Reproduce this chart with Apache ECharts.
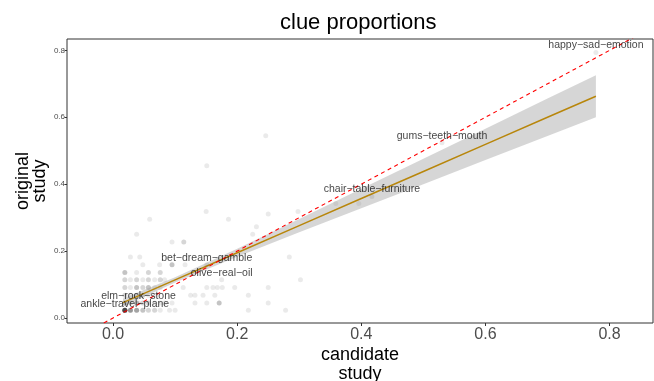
<!DOCTYPE html>
<html>
<head>
<meta charset="utf-8">
<script src="https://cdn.jsdelivr.net/npm/echarts@6.0.0/dist/echarts.min.js"></script>
<style>
  html, body { margin: 0; padding: 0; background: #fff; }
  #chart { width: 654px; height: 381px; }
</style>
</head>
<body>
<div id="chart"></div>
<script>
// scatter points (candidate study proportion, original study proportion, how many overlap there)
const ptX = [
  0.019, 0.028, 0.038, 0.048, 0.057, 0.067, 0.076, 0.091, 0.100, 0.218, 0.278,
  0.019, 0.028, 0.038, 0.048, 0.057, 0.067, 0.076, 0.083, 0.095, 0.132, 0.151, 0.171, 0.250,
  0.019, 0.028, 0.038, 0.048, 0.057, 0.067, 0.125, 0.132, 0.145, 0.164, 0.218,
  0.019, 0.028, 0.038, 0.048, 0.057, 0.067, 0.076, 0.113, 0.151, 0.161, 0.168, 0.176, 0.196, 0.250,
  0.019, 0.028, 0.038, 0.048, 0.057, 0.067, 0.076, 0.083, 0.302,
  0.019, 0.038, 0.057, 0.076,
  0.048, 0.075, 0.095, 0.116,
  0.028, 0.043, 0.284,
  0.095, 0.114,
  0.038, 0.225,
  0.231,
  0.059, 0.186,
  0.150, 0.298, 0.250,
  0.151, 0.246, 0.359, 0.396
]
const ptY = [
  0.023, 0.023, 0.023, 0.023, 0.023, 0.023, 0.023, 0.023, 0.023, 0.023, 0.023,
  0.045, 0.045, 0.045, 0.045, 0.045, 0.045, 0.045, 0.045, 0.045, 0.045, 0.045, 0.045, 0.045,
  0.068, 0.068, 0.068, 0.068, 0.068, 0.068, 0.068, 0.068, 0.068, 0.068, 0.068,
  0.091, 0.091, 0.091, 0.091, 0.091, 0.091, 0.091, 0.091, 0.091, 0.091, 0.091, 0.091, 0.091, 0.091,
  0.114, 0.114, 0.114, 0.114, 0.114, 0.114, 0.114, 0.114, 0.114,
  0.136, 0.136, 0.136, 0.136,
  0.159, 0.159, 0.159, 0.159,
  0.182, 0.182, 0.182,
  0.227, 0.227,
  0.250, 0.250,
  0.273,
  0.295, 0.295,
  0.318, 0.318, 0.311,
  0.455, 0.545, 0.342, 0.342
]
const ptN = [
  13, 6, 5, 3, 2, 2, 1, 1, 1, 1, 1,
  3, 2, 3, 2, 2, 1, 1, 1, 1, 1, 1, 3, 1,
  2, 1, 2, 2, 1, 1, 1, 1, 1, 1, 1,
  2, 1, 3, 2, 3, 1, 1, 1, 1, 1, 1, 1, 1, 1,
  2, 1, 2, 1, 2, 1, 2, 1, 1,
  3, 1, 2, 2,
  1, 1, 3, 1,
  1, 1, 1,
  1, 2,
  1, 1,
  1,
  1, 1,
  1, 1, 1,
  1, 1, 1, 1
]

// labelled clues
const labelNames = ['happy−sad−emotion', 'gums−teeth−mouth', 'chair−table−furniture', 'bet−dream−gamble', 'olive−real−oil', 'elm−rock−stone', 'ankle−travel−plane']
const labelX = [0.778, 0.530, 0.417, 0.151, 0.175, 0.041, 0.019]
const labelY = [0.794, 0.524, 0.363, 0.159, 0.114, 0.045, 0.022]

// linear fit and its confidence band
const fitX = [0.016, 0.1, 0.2, 0.3, 0.4, 0.5, 0.6, 0.7, 0.778]
const fitY = [0.046, 0.114, 0.195, 0.276, 0.357, 0.438, 0.519, 0.600, 0.663]
const bandUpper = [0.058, 0.122, 0.207, 0.296, 0.386, 0.476, 0.566, 0.656, 0.726]
const bandLower = [0.034, 0.106, 0.183, 0.256, 0.328, 0.400, 0.472, 0.544, 0.600]

// y = x reference line
const ablineX = [-0.1, 0.9]

const tickValues = [0, 0.2, 0.4, 0.6, 0.8]

const font = '"Liberation Sans", Arial, Helvetica, sans-serif'
const pointColor = 'rgba(0,0,0,0.1)'

const pointData = []
ptX.forEach((x, i) => {
  for (let k = 0; k < ptN[i]; k++) pointData.push([x, ptY[i]])
})

const chart = echarts.init(document.getElementById('chart'), null, { renderer: 'canvas' })

chart.setOption({
  animation: false,
  backgroundColor: '#fff',
  textStyle: { fontFamily: font },
  title: {
    text: 'clue proportions',
    left: 280,
    top: 12,
    padding: 0,
    textStyle: { fontSize: 22, fontWeight: 'normal', color: '#000', fontFamily: font }
  },
  grid: {
    left: 67,
    right: 1,
    top: 39,
    bottom: 58,
    show: true,
    borderColor: '#333',
    borderWidth: 1,
    outerBoundsMode: 'none'
  },
  xAxis: {
    type: 'value',
    min: -0.0742,
    max: 0.870,
    splitLine: { show: false },
    axisLine: { show: false, onZero: false },
    axisTick: { show: true, length: 3, customValues: tickValues, lineStyle: { color: '#333' } },
    axisLabel: {
      customValues: tickValues,
      fontSize: 16,
      color: '#4d4d4d',
      margin: 4,
      formatter: (v) => v.toFixed(1)
    },
    name: 'candidate\nstudy',
    nameLocation: 'middle',
    nameGap: 23,
    nameMoveOverlap: false,
    nameTextStyle: { fontSize: 18, color: '#000', lineHeight: 19 }
  },
  yAxis: {
    type: 'value',
    min: -0.015,
    max: 0.834,
    splitLine: { show: false },
    axisLine: { show: false, onZero: false },
    axisTick: { show: true, length: 2.5, customValues: tickValues, lineStyle: { color: '#333' } },
    axisLabel: {
      customValues: tickValues,
      fontSize: 8,
      color: '#4d4d4d',
      margin: 2,
      formatter: (v) => v.toFixed(1)
    },
    name: 'original\nstudy',
    nameLocation: 'middle',
    nameRotate: 90,
    nameGap: 18,
    nameMoveOverlap: false,
    nameTextStyle: { fontSize: 18, color: '#000', lineHeight: 17 }
  },
  series: [
    {
      type: 'scatter',
      data: pointData,
      symbolSize: 5,
      silent: true,
      z: 2,
      itemStyle: { color: pointColor }
    },
    {
      type: 'custom',
      z: 3,
      silent: true,
      clip: true,
      data: [[fitX[0], fitY[0]]],
      renderItem: (params, api) => {
        const pts = []
        fitX.forEach((x, i) => pts.push(api.coord([x, bandUpper[i]])))
        for (let i = fitX.length - 1; i >= 0; i--) pts.push(api.coord([fitX[i], bandLower[i]]))
        return {
          type: 'polygon',
          shape: { points: pts },
          style: { fill: 'rgba(153,153,153,0.4)' }
        }
      }
    },
    {
      type: 'line',
      z: 4,
      silent: true,
      symbol: 'none',
      data: fitX.map((x, i) => [x, fitY[i]]),
      lineStyle: { color: '#b8860b', width: 1.5 }
    },
    {
      type: 'line',
      z: 5,
      silent: true,
      symbol: 'none',
      clip: true,
      data: ablineX.map((x) => [x, x]),
      lineStyle: { color: '#ff0000', width: 1.1, type: [4, 3.5] }
    },
    {
      type: 'scatter',
      z: 6,
      silent: true,
      symbolSize: 5,
      itemStyle: { color: pointColor },
      data: labelNames.map((n, i) => ({ name: n, value: [labelX[i], labelY[i]] })),
      label: {
        show: true,
        position: [2.5, -4.5],
        align: 'center',
        verticalAlign: 'middle',
        formatter: '{b}',
        fontSize: 10.5,
        color: '#111',
        fontFamily: font
      },
      labelLayout: { hideOverlap: false }
    }
  ]
})
</script>
</body>
</html>
